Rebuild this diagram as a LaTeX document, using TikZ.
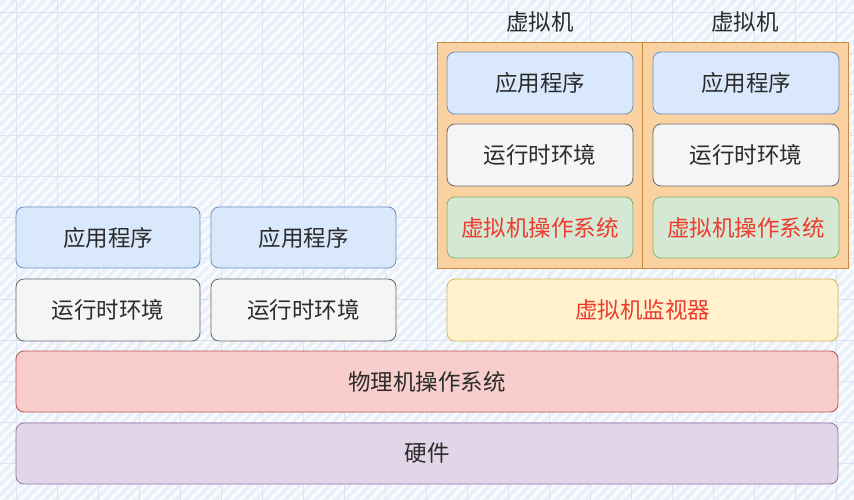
\documentclass[tikz,border=0pt]{standalone}
\usepackage{fontspec}
\setmainfont{Noto Sans CJK SC}
\usetikzlibrary{positioning}
\definecolor{bgc}{HTML}{E9F0FA}
\definecolor{gridc}{HTML}{DCE4F0}
\definecolor{bluef}{HTML}{DAE8FC}\definecolor{blued}{HTML}{6C8EBF}
\definecolor{greyf}{HTML}{F5F5F5}\definecolor{greyd}{HTML}{666666}
\definecolor{greenf}{HTML}{D5E8D4}\definecolor{greend}{HTML}{82B366}
\definecolor{yellowf}{HTML}{FFF2CC}\definecolor{yellowd}{HTML}{D6B656}
\definecolor{redf}{HTML}{F8CECC}\definecolor{redd}{HTML}{B85450}
\definecolor{purf}{HTML}{E1D5E7}\definecolor{purd}{HTML}{9673A6}
\definecolor{oranf}{HTML}{FAD2A2}\definecolor{orand}{HTML}{C98A3A}
\definecolor{redtxt}{HTML}{F03A2E}
\definecolor{txt}{HTML}{2B2B2B}
\tikzset{
  layer/.style={draw, rounded corners=8pt, line width=0.8pt, inner sep=0pt,
    text=txt, font=\fontsize{22.5}{26}\selectfont},
  bluebox/.style={layer, fill=bluef, draw=blued},
  greybox/.style={layer, fill=greyf, draw=greyd},
  greenbox/.style={layer, fill=greenf, draw=greend, text=redtxt},
  yellowbox/.style={layer, fill=yellowf, draw=yellowd, text=redtxt},
  redbox/.style={layer, fill=redf, draw=redd},
  purbox/.style={layer, fill=purf, draw=purd},
  vmbox/.style={draw=orand, fill=oranf, line width=0.8pt, inner sep=0pt},
  vmlabel/.style={text=txt, font=\fontsize{22.5}{26}\selectfont, inner sep=0pt}
}
\newcommand{\boxat}[6]{%
  \node[#2, minimum width={#5-#3}, minimum height={#6-#4}] (#1) at ({(#3+#5)/2},{(#4+#6)/2})}
\begin{document}
\begin{tikzpicture}[x=1pt,y=-1pt]
\useasboundingbox (0,0) rectangle (854,500);
% background
\fill[bgc] (0,0) rectangle (854,500);
\begin{scope}
\clip (0,0) rectangle (854,500);
\foreach \i in {-520,-510,...,860} {
  \draw[white, line width=3pt, opacity=0.75] (\i,500) -- ({\i+500},0);
}
\foreach \gx in {16,57,...,854} { \draw[gridc, line width=0.5pt] (\gx,0) -- (\gx,500); }
\foreach \gy in {12,53,...,500} { \draw[gridc, line width=0.5pt] (0,\gy) -- (854,\gy); }
\end{scope}
% VM containers
\node[vmbox, minimum width=205, minimum height=226] (vm1) at (539.5,155) {};
\node[vmbox, minimum width=206, minimum height=226] (vm2) at (745,155) {};
\node[vmlabel] (vml1) at (540,22) {虚拟机};
\node[vmlabel] (vml2) at (745,22) {虚拟机};
% VM inner boxes
\boxat{va1}{bluebox}{447}{52}{633}{114} {应用程序};
\boxat{vr1}{greybox}{447}{124}{633}{186} {运行时环境};
\boxat{vo1}{greenbox}{447}{197}{633}{258} {虚拟机操作系统};
\boxat{va2}{bluebox}{653}{52}{839}{114} {应用程序};
\boxat{vr2}{greybox}{653}{124}{839}{186} {运行时环境};
\boxat{vo2}{greenbox}{653}{197}{839}{258} {虚拟机操作系统};
% left stacks
\boxat{a1}{bluebox}{16}{207}{200}{268} {应用程序};
\boxat{a2}{bluebox}{211}{207}{396}{268} {应用程序};
\boxat{r1}{greybox}{16}{279}{200}{341} {运行时环境};
\boxat{r2}{greybox}{211}{279}{396}{341} {运行时环境};
% hypervisor
\boxat{hv}{yellowbox}{447}{279}{838}{341} {虚拟机监视器};
% host OS and hardware
\boxat{os}{redbox}{16}{351}{838}{412} {物理机操作系统};
\boxat{hw}{purbox}{16}{423}{838}{484} {硬件};
\end{tikzpicture}
\end{document}
